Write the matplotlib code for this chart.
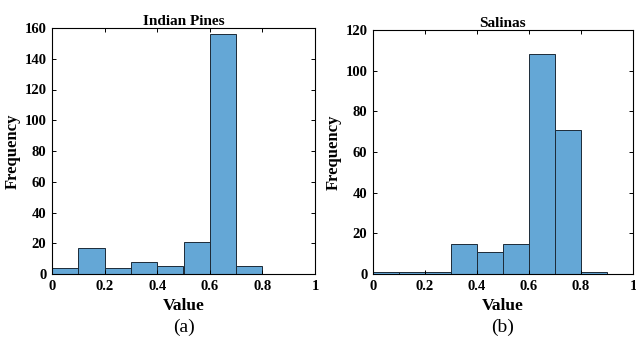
import matplotlib.pyplot as plt
import numpy as np

# histogram data (bin width 0.1)
bin_edges = [0, 0.1, 0.2, 0.3, 0.4, 0.5, 0.6, 0.7, 0.8, 0.9, 1.0]
indian_pines_counts = [4, 17, 4, 8, 5, 21, 156, 5, 0, 0]
salinas_counts = [1, 1, 1, 15, 11, 15, 108, 71, 1, 0]

titles = ['Indian Pines', 'Salinas']
panel_labels = ['(a)', '(b)']
y_limits = [160, 120]

plt.rcParams['font.family'] = ['Liberation Serif', 'DejaVu Serif']

fig = plt.figure(figsize=(6.36, 3.38), dpi=100)
axes_pos = [[52 / 636, 1 - 274 / 338, 263 / 636, 246 / 338],
            [373 / 636, 1 - 274 / 338, 260 / 636, 244 / 338]]

for i, counts in enumerate([indian_pines_counts, salinas_counts]):
    ax = fig.add_axes(axes_pos[i])
    edges = np.array(bin_edges)
    ax.bar(edges[:-1], counts, width=np.diff(edges), align='edge',
           color='#64a7d6', edgecolor='#1c2a38', linewidth=0.7)
    ax.set_xlim(0, 1)
    ax.set_ylim(0, y_limits[i])
    ax.set_xticks([0, 0.2, 0.4, 0.6, 0.8, 1])
    ax.set_xticklabels(['0', '0.2', '0.4', '0.6', '0.8', '1'])
    ax.set_yticks(np.arange(0, y_limits[i] + 1, 20))
    ax.tick_params(direction='in', top=True, right=True, length=3,
                   width=0.7, labelsize=10.5, pad=4)
    for lab in ax.get_xticklabels() + ax.get_yticklabels():
        lab.set_fontweight('bold')
    for s in ax.spines.values():
        s.set_linewidth(0.8)
    ax.set_title(titles[i], fontsize=11, fontweight='bold', pad=2)
    ax.set_xlabel('Value', fontsize=12.5, fontweight='bold', labelpad=4)
    ax.set_ylabel('Frequency', fontsize=12, fontweight='bold', labelpad=3)
    x_mid = axes_pos[i][0] + axes_pos[i][2] / 2
    fig.text(x_mid, 1 - 327 / 338, panel_labels[i],
             ha='center', va='center', fontsize=14)

fig.savefig('out.png', dpi=100)
